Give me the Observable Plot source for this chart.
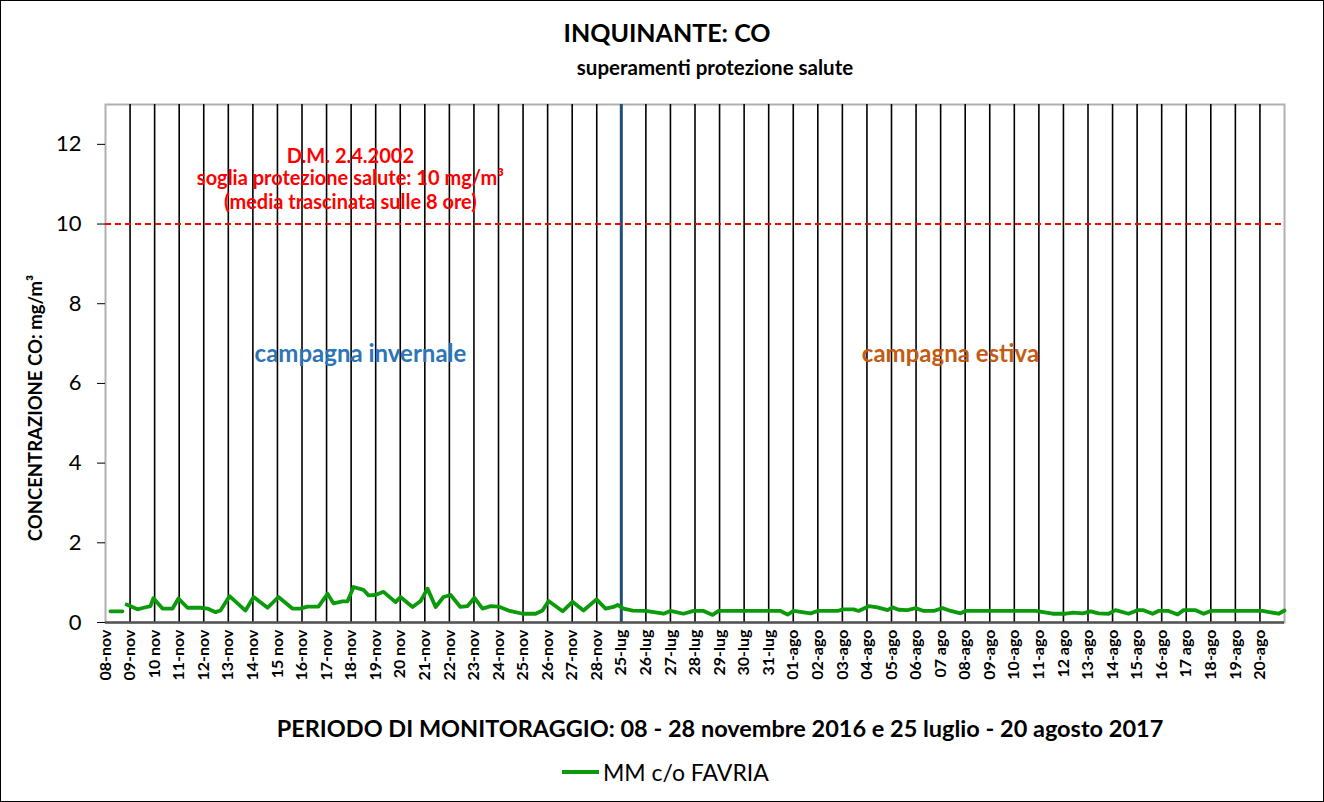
<!DOCTYPE html>
<html>
<head>
<meta charset="utf-8">
<script src="https://cdn.jsdelivr.net/npm/d3@7"></script>
<script src="https://cdn.jsdelivr.net/npm/@observablehq/plot@0.6"></script>
<style>
  body { margin: 0; background: #fff; }
  #wrap { position: relative; width: 1324px; height: 802px; font-family: Lato, "Open Sans", sans-serif; }
  #wrap svg { position: absolute; left: 0; top: 0; }
  .ov { position: absolute; white-space: nowrap; color: #000; }
  #border { position: absolute; left: 0; top: 0; width: 1322px; height: 800px; border: 1px solid #000; pointer-events: none; }
</style>
</head>
<body>
<div id="wrap">
  <div class="ov" style="left:0;width:1334px;top:17px;text-align:center;font-weight:bold;font-size:25px;">INQUINANTE: CO</div>
  <div class="ov" style="left:0;width:1430px;top:55px;text-align:center;font-weight:bold;font-size:20.5px;">superamenti protezione salute</div>
  <div class="ov" style="left:0;width:1440px;top:714px;text-align:center;font-weight:bold;font-size:23.5px;">PERIODO DI MONITORAGGIO: 08 - 28 novembre 2016 e 25 luglio - 20 agosto 2017</div>
  <div class="ov" style="left:35px;top:408px;font-weight:bold;font-size:18.5px;transform:translate(-50%,-50%) rotate(-90deg);">CONCENTRAZIONE CO: mg/m³</div>
  <div class="ov" style="left:562px;top:758px;font-size:23px;display:flex;align-items:center;">
    <span style="display:inline-block;width:37px;height:3.5px;background:#0a9a0a;margin-right:4px;"></span>MM c/o FAVRIA
  </div>
  <div id="border"></div>
</div>
<script>
// ---- data ----
const dayLabels = [
  "08-nov","09-nov","10 nov","11-nov","12-nov","13-nov","14-nov","15 nov","16-nov","17-nov",
  "18-nov","19-nov","20 nov","21-nov","22-nov","23-nov","24-nov","25-nov","26-nov","27-nov","28-nov",
  "25-lug","26-lug","27-lug","28-lug","29-lug","30-lug","31-lug",
  "01-ago","02-ago","03-ago","04-ago","05-ago","06-ago","07 ago","08-ago","09-ago","10-ago",
  "11-ago","12 ago","13-ago","14-ago","15-ago","16-ago","17 ago","18-ago","19-ago","20-ago"
];
const yTicks = [0, 2, 4, 6, 8, 10, 12];
const threshold = 10;
const campaignSplitDay = 21;
// time in days from start (08-nov 00:00), CO in mg/m3
const tDays = [
  0.20, 0.69, 0.78,
  0.86, 1.30, 1.55, 1.83, 1.95, 2.32, 2.73, 2.97, 3.34, 3.87, 4.15, 4.48, 4.68, 5.05, 5.70, 6.03,
  6.60, 7.04, 7.61, 7.94, 8.22, 8.67, 9.04, 9.28, 9.65, 9.85, 10.10, 10.50, 10.71, 10.99, 11.32,
  11.81, 12.01, 12.50, 12.83, 13.11, 13.44, 13.76, 14.05, 14.45, 14.74, 15.02, 15.35, 15.68, 16.00,
  16.41, 16.98, 17.51, 17.79, 18.04, 18.61, 19.01, 19.46, 19.99, 20.36, 20.68, 20.85, 21.09, 21.46,
  21.99, 22.72, 23.00, 23.53, 23.94, 24.35, 24.72, 24.96, 27.48, 27.77, 28.01, 28.71, 28.99, 29.80,
  30.01, 30.46, 30.66, 31.07, 31.43, 31.84, 32.04, 32.29, 32.65, 32.98, 33.31, 33.71, 34.08, 34.41,
  34.81, 35.02, 37.87, 38.56, 39.09, 39.41, 39.78, 40.11, 40.43, 40.84, 41.12, 41.65, 42.02, 42.26,
  42.63, 42.87, 43.28, 43.65, 43.89, 44.38, 44.71, 44.99, 47.11, 47.76, 48.00
];
const coValues = [
  0.28, 0.28, NaN,
  0.45, 0.33, 0.37, 0.41, 0.61, 0.35, 0.35, 0.60, 0.37, 0.37, 0.35, 0.26, 0.30, 0.66, 0.30, 0.64,
  0.37, 0.64, 0.35, 0.35, 0.40, 0.40, 0.72, 0.48, 0.53, 0.53, 0.89, 0.82, 0.68, 0.69, 0.77,
  0.51, 0.64, 0.39, 0.54, 0.85, 0.39, 0.64, 0.69, 0.39, 0.41, 0.62, 0.35, 0.41, 0.40,
  0.30, 0.22, 0.22, 0.30, 0.54, 0.28, 0.52, 0.30, 0.58, 0.35, 0.39, 0.44, 0.35, 0.30,
  0.29, 0.22, 0.29, 0.22, 0.29, 0.29, 0.19, 0.29, 0.29, 0.20, 0.29, 0.23, 0.29, 0.29,
  0.33, 0.33, 0.29, 0.41, 0.38, 0.31, 0.38, 0.32, 0.31, 0.36, 0.29, 0.29, 0.36, 0.29,
  0.23, 0.29, 0.29, 0.22, 0.22, 0.25, 0.23, 0.28, 0.23, 0.22, 0.31, 0.22, 0.31, 0.31,
  0.22, 0.29, 0.29, 0.20, 0.31, 0.31, 0.22, 0.29, 0.29, 0.22, 0.30
];

const series = tDays.map((t, i) => ({t, v: coValues[i]}));
const gridDays = d3.range(1, dayLabels.length).filter(d => d !== campaignSplitDay);

const chart = Plot.plot({
  width: 1324,
  height: 802,
  marginLeft: 105,
  marginRight: 40,
  marginTop: 104,
  marginBottom: 180,
  style: {fontFamily: "Lato, 'Open Sans', sans-serif", background: "transparent", color: "#000"},
  x: {domain: [0, dayLabels.length]},
  y: {domain: [0, 13]},
  marks: [
    Plot.frame({stroke: "#b0b0b0", strokeWidth: 2}),
    Plot.ruleX(gridDays, {stroke: "#000", strokeWidth: 1.6}),
    Plot.ruleX([campaignSplitDay], {stroke: "#1f4e79", strokeWidth: 3}),
    Plot.ruleY([threshold], {stroke: "#ff0000", strokeWidth: 2, strokeDasharray: "6,4"}),
    Plot.ruleY([0], {stroke: "#555", strokeWidth: 2.5}),
    Plot.line(series, {x: "t", y: "v", stroke: "#0a9a0a", strokeWidth: 3.8, curve: "linear"}),
    Plot.text(["D.M. 2.4.2002"], {x: 9.97, y: 11.7, fill: "#ff0000", fontSize: 20, fontWeight: "bold"}),
    Plot.text(["soglia protezione salute: 10 mg/m³"], {x: 9.97, y: 11.15, fill: "#ff0000", fontSize: 20, fontWeight: "bold"}),
    Plot.text(["(media trascinata sulle 8 ore)"], {x: 9.97, y: 10.55, fill: "#ff0000", fontSize: 20, fontWeight: "bold"}),
    Plot.text(["campagna invernale"], {x: 10.38, y: 6.72, fill: "#2e75b6", fontSize: 24, fontWeight: "bold"}),
    Plot.text(["campagna estiva"], {x: 34.4, y: 6.72, fill: "#c55a11", fontSize: 24, fontWeight: "bold"}),
    Plot.axisY({ticks: yTicks, tickSize: 8, tickPadding: 16, fontSize: 22, label: null}),
    Plot.axisX({ticks: d3.range(dayLabels.length), tickFormat: i => dayLabels[i], tickRotate: -90,
      tickSize: 0, tickPadding: 7, fontSize: 16, fontWeight: "bold", label: null})
  ]
});
document.getElementById("wrap").prepend(chart);
</script>
</body>
</html>
